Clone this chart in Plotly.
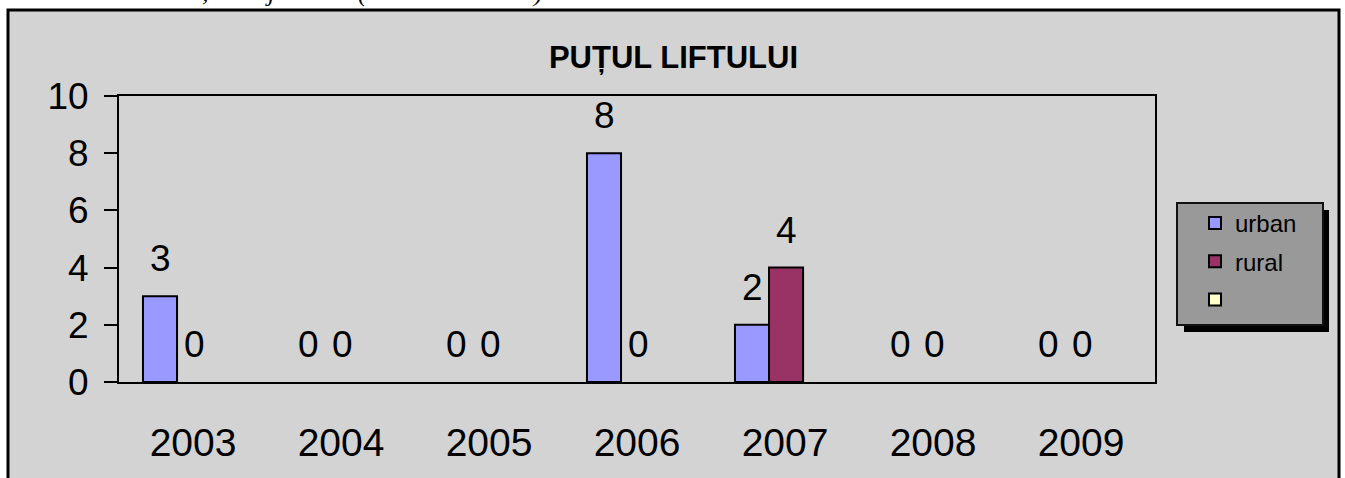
import plotly.graph_objects as go

# ---- data ----
years = ["2003", "2004", "2005", "2006", "2007", "2008", "2009"]
urban = [3, 0, 0, 8, 2, 0, 0]
rural = [0, 0, 0, 0, 4, 0, 0]
third = [None, None, None, None, None, None, None]
series_names = ["urban", "rural", " "]
title_text = "PUȚUL LIFTULUI"
yticks = [0, 2, 4, 6, 8, 10]

# ---- layout geometry (pixels) ----
W, H = 1345, 478
L, R, T, B = 119, 1155, 96, 382


def fx(px):
    return (px - L) / (R - L)


def fy(py):
    return (B - py) / (B - T)


FONT = "Liberation Sans, Arial, sans-serif"
BAR_W = 0.23
offsets = [-0.338, -0.108, 0.122]
colors = ["#9999FF", "#993366", "#FFFFCC"]
values = [urban, rural, third]

fig = go.Figure()
for i, (name, vals, col) in enumerate(zip(series_names, values, colors)):
    # drawn bars (no outline on zero-height bars)
    lw = [2 if v else 0 for v in vals]
    fig.add_trace(go.Bar(
        x=years, y=vals, name=name,
        width=BAR_W, offset=offsets[i],
        marker=dict(color=col, line=dict(color="black", width=lw)),
        showlegend=False, hoverinfo="skip",
    ))
    # legend entry for the series (same name / colour, outlined square)
    fig.add_trace(go.Bar(
        x=years, y=[None] * len(years), name=name,
        width=BAR_W, offset=offsets[i],
        marker=dict(color=col, line=dict(color="black", width=2)),
        legendgroup=f"g{i}", showlegend=True, hoverinfo="skip",
    ))

annotations = []
# data labels for urban and rural
for i, vals in enumerate([urban, rural]):
    for j, v in enumerate(vals):
        annotations.append(dict(
            x=j + offsets[i] + BAR_W / 2, y=v, xref="x", yref="y",
            text=str(v), showarrow=False, yanchor="bottom", xanchor="center",
            yshift=15, font=dict(family=FONT, size=37, color="black"),
        ))

# cut-off text fragments at very top of the page
for ch, px in [(",", 205), ("j", 270), ("(", 363), (")", 537)]:
    annotations.append(dict(
        x=fx(px), y=fy(9), xref="paper", yref="paper",
        text=f"<i>{ch}</i>", showarrow=False, yanchor="bottom", xanchor="center",
        font=dict(family="Liberation Serif, Times New Roman, serif", size=26, color="black"),
    ))

shapes = [
    # outer chart frame
    dict(type="rect", xref="paper", yref="paper", layer="below",
         x0=fx(8), x1=fx(1339), y0=fy(495), y1=fy(10),
         line=dict(color="black", width=3), fillcolor="#D3D3D3"),
    # legend shadow
    dict(type="rect", xref="paper", yref="paper", layer="below",
         x0=fx(1184), x1=fx(1329), y0=fy(332), y1=fy(210),
         line=dict(width=0), fillcolor="black"),
    # legend box
    dict(type="rect", xref="paper", yref="paper", layer="below",
         x0=fx(1177), x1=fx(1323), y0=fy(325), y1=fy(203),
         line=dict(color="#111111", width=2), fillcolor="#999999"),
]

fig.update_layout(
    width=W, height=H,
    margin=dict(l=L, r=W - R, t=T, b=H - B, pad=0),
    paper_bgcolor="white",
    plot_bgcolor="#D3D3D3",
    barmode="group",
    showlegend=True,
    title=dict(text=f"<b>{title_text}</b>", x=673.5 / W, xref="container",
               y=1 - 57 / H, yref="container", xanchor="center", yanchor="middle",
               font=dict(family=FONT, size=31, color="black")),
    legend=dict(x=fx(1195), y=fy(201), xanchor="left", yanchor="top",
                bgcolor="rgba(0,0,0,0)", borderwidth=0,
                font=dict(family=FONT, size=24, color="black"),
                tracegroupgap=4, traceorder="grouped"),
    annotations=annotations,
    shapes=shapes,
    xaxis=dict(type="category", categoryorder="array", categoryarray=years,
               range=[-0.5, len(years) - 0.5],
               showline=True, linecolor="black", linewidth=2, mirror=True,
               showgrid=False, zeroline=False, ticks="",
               ticklabelstandoff=25,
               tickfont=dict(family=FONT, size=39, color="black")),
    yaxis=dict(range=[0, 10], tickvals=yticks, ticktext=[str(t) for t in yticks],
               showline=True, linecolor="black", linewidth=2, mirror=True,
               showgrid=False, zeroline=False,
               ticks="outside", ticklen=13, tickwidth=2, tickcolor="black",
               ticklabelstandoff=8,
               tickfont=dict(family=FONT, size=37, color="black")),
)

fig.write_html("out.html",
               config={"displayModeBar": False, "staticPlot": True},
               post_script="document.body.style.margin='0';document.body.style.overflow='hidden';")
